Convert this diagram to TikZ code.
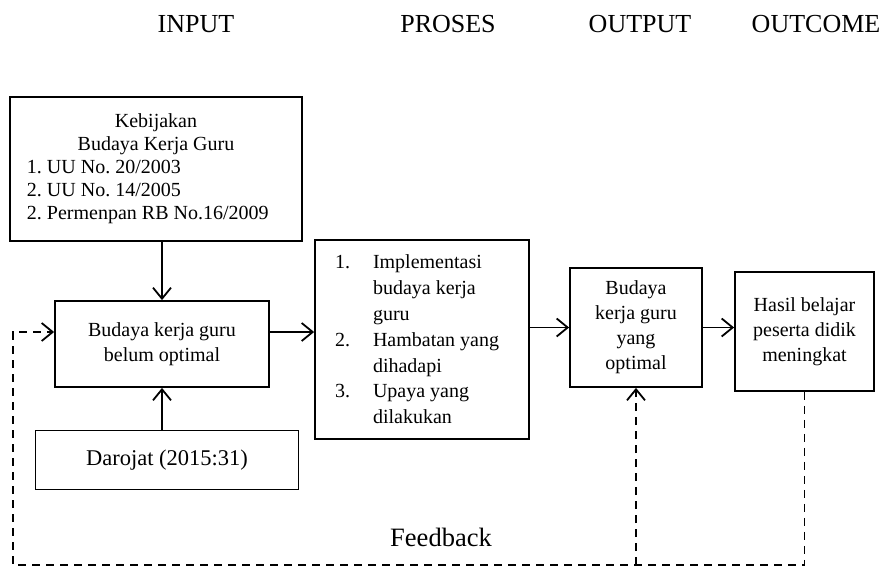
\documentclass[tikz,border=0pt]{standalone}
\usepackage{fontspec}
\setmainfont{Liberation Serif}
\usetikzlibrary{arrows.meta,positioning}

\begin{document}
\frenchspacing
\begin{tikzpicture}[x=1pt,y=-1pt,
    head/.style={font=\fontsize{26}{30}\selectfont},
    box/.style={draw, line width=1.8pt, inner sep=0pt, align=center, font=\fontsize{20}{25}\selectfont},
    arr/.style={-{Straight Barb[length=11pt,width=18pt,line width=1.8pt]}, line width=1.8pt},
    fb/.style={arr, dash pattern=on 8pt off 6pt}]
\useasboundingbox (0,0) rectangle (887,566);

% Headings
\node[head] (hInput) at (196,24) {INPUT};
\node[head] (hProses) at (448,24) {PROSES};
\node[head] (hOutput) at (640,24) {OUTPUT};
\node[head] (hOutcome) at (816,24) {OUTCOME};

% Boxes
\node[box, minimum width=292pt, minimum height=144pt, text width=258pt, align=flush left,
      font=\fontsize{20}{23}\selectfont] (kebijakan) at (156,169)
  {\makebox[\linewidth]{Kebijakan}\\ \makebox[\linewidth]{Budaya Kerja Guru}\\
   1. UU No. 20/2003\\ 2. UU No. 14/2005\\ 2. Permenpan RB No.16/2009};
\node[box, minimum width=214pt, minimum height=86pt] (belum) at (162,344)
  {Budaya kerja guru\\ belum optimal};
\node[box, minimum width=263pt, minimum height=59pt, font=\fontsize{22.5}{26}\selectfont] (darojat) at (167,460)
  {Darojat (2015:31)};
\node[box, minimum width=214pt, minimum height=199pt, text width=174pt, align=flush left,
      font=\fontsize{20}{25.8}\selectfont] (proses) at (422,339.5)
  {\makebox[38pt][l]{1.}Implementasi\\ \hspace*{38pt}budaya kerja\\ \hspace*{38pt}guru\\
   \makebox[38pt][l]{2.}Hambatan yang\\ \hspace*{38pt}dihadapi\\
   \makebox[38pt][l]{3.}Upaya yang\\ \hspace*{38pt}dilakukan};
\node[box, minimum width=132pt, minimum height=119pt] (optimal) at (636,327.5)
  {Budaya\\ kerja guru\\ yang\\ optimal};
\node[box, minimum width=139pt, minimum height=119pt] (hasil) at (804.5,331.5)
  {Hasil belajar\\ peserta didik\\ meningkat};

% Arrows
\draw[arr] (kebijakan.south -| belum) -- (belum.north);
\draw[arr] (darojat.north -| belum) -- (belum.south);
\draw[arr] ([yshift=12pt]belum.east) -- ([yshift=12pt]belum.east -| proses.west);
\draw[arr] (proses.east |- optimal.west) -- (optimal.west);
\draw[arr] (optimal.east) -- (optimal.east -| hasil.west);

% Feedback
\coordinate (fbL) at (13,565);
\draw[fb] (hasil.south) |- (fbL) |- ([yshift=12pt]belum.west);
\draw[fb] (optimal.south |- fbL) -- (optimal.south);
\node[font=\fontsize{26.5}{30}\selectfont] (feedback) at (441,537) {Feedback};
\end{tikzpicture}
\end{document}
